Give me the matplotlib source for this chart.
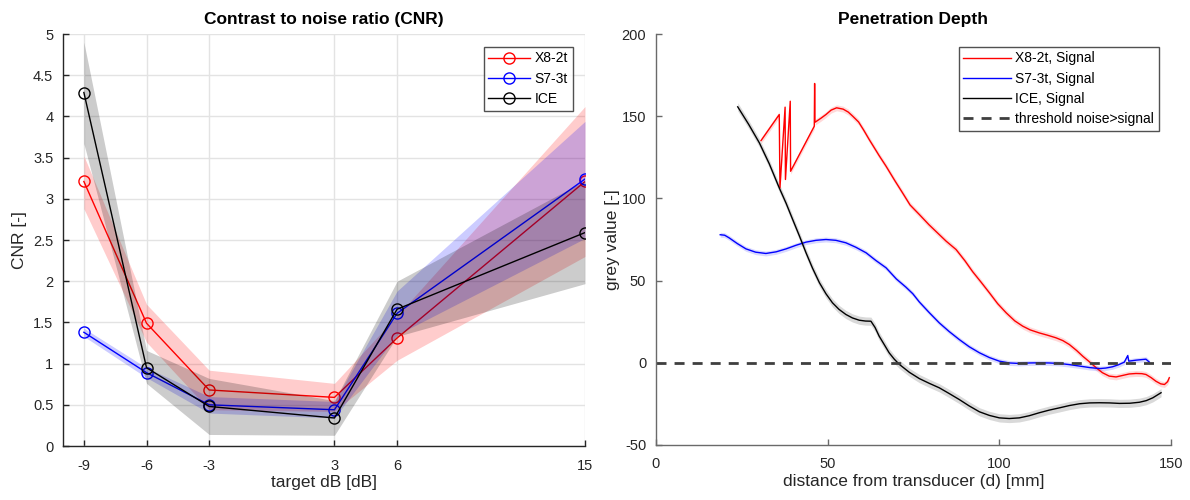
import numpy as np
import matplotlib
matplotlib.use("Agg")
import matplotlib.pyplot as plt

plt.rcParams['font.family'] = ['Liberation Sans', 'DejaVu Sans']
plt.rcParams['axes.unicode_minus'] = False

# ---------------- Left panel data (CNR) ----------------
target_db = [-9, -6, -3, 3, 6, 15]
cnr_x8 = [3.21, 1.49, 0.68, 0.59, 1.31, 3.21]
cnr_x8_lo = [2.88, 1.26, 0.44, 0.42, 1.04, 2.30]
cnr_x8_hi = [3.52, 1.72, 0.92, 0.76, 1.58, 4.12]
cnr_s7 = [1.38, 0.89, 0.50, 0.44, 1.61, 3.24]
cnr_s7_lo = [1.33, 0.83, 0.40, 0.34, 1.35, 2.52]
cnr_s7_hi = [1.43, 0.95, 0.60, 0.54, 1.88, 3.94]
cnr_ice = [4.29, 0.95, 0.48, 0.34, 1.66, 2.59]
cnr_ice_lo = [3.67, 0.76, 0.14, 0.13, 1.33, 1.97]
cnr_ice_hi = [4.90, 1.16, 0.82, 0.55, 2.00, 3.22]
cnr_labels = ['X8-2t', 'S7-3t', 'ICE']

# ---------------- Right panel data (penetration depth) ----------------
x8_d = [30.6, 35.9, 36.1, 37.6, 37.7, 39.1, 39.2, 46.1, 46.2, 46.3, 48.0, 49.5, 51.0,
        52.6, 54.5, 56.0, 57.3, 59.0, 60.5, 62.1, 65.0, 67.0, 69.5, 71.8, 74.0, 76.7,
        79.5, 82.0, 84.5, 87.4, 90.0, 92.2, 94.7, 97.1, 99.5, 102.0, 104.5, 106.8,
        109.0, 111.6, 114.0, 116.5, 118.5, 120.4, 122.5, 124.3, 126.3, 128.2, 130.0,
        132.0, 134.0, 135.9, 137.8, 139.8, 141.5, 142.7, 144.2, 145.6, 147.0, 148.1,
        149.0, 149.5]
x8_g = [135.2, 151.0, 106.4, 155.5, 111.5, 159.1, 116.5, 143.9, 169.9, 146.3, 148.7,
        151.0, 153.7, 155.1, 154.3, 152.5, 150.0, 146.5, 141.5, 135.8, 126.0, 119.6,
        111.0, 103.4, 96.0, 90.2, 84.0, 79.0, 74.0, 68.9, 62.0, 55.5, 49.0, 42.6, 36.0,
        30.4, 25.5, 22.3, 20.0, 18.2, 16.8, 15.2, 13.5, 11.1, 7.5, 4.0, 0.5, -3.0, -6.0,
        -8.1, -8.6, -7.7, -6.8, -6.5, -6.6, -7.1, -9.0, -11.2, -12.8, -13.2, -11.5, -9.1]

s7_d = [18.7, 20.0, 21.3, 23.7, 26.2, 29.0, 32.0, 35.0, 37.9, 40.8, 43.7, 46.6, 49.5,
        52.4, 55.3, 58.2, 61.2, 64.0, 67.0, 70.0, 72.8, 74.8, 76.7, 79.6, 82.5, 85.4,
        88.3, 91.2, 94.2, 97.1, 100.0, 102.9, 105.8, 108.7, 111.6, 114.5, 117.5, 120.4,
        123.4, 126.3, 129.2, 131.0, 133.0, 134.7, 136.4, 137.4, 137.7, 139.8, 142.7, 143.7]
s7_g = [77.9, 77.6, 76.0, 72.5, 69.3, 67.3, 66.5, 67.5, 69.3, 71.5, 73.4, 74.5, 75.0,
        74.5, 73.0, 70.3, 66.9, 62.3, 57.8, 51.0, 46.0, 42.0, 37.0, 30.5, 24.3, 19.0,
        14.2, 9.8, 6.1, 3.2, 1.0, -0.1, -0.4, -0.1, 0.0, -0.1, -0.4, -1.1, -2.0, -2.9,
        -3.5, -3.2, -2.4, -1.2, 0.4, 4.4, 1.0, 1.6, 2.2, 0.4]

ice_d = [23.8, 27.0, 30.1, 33.0, 35.9, 37.9, 39.8, 41.8, 43.7, 45.6, 47.6, 49.5, 51.4,
         53.3, 55.3, 57.2, 59.2, 61.0, 62.6, 63.8, 65.0, 66.5, 67.9, 69.4, 70.9, 73.8,
         76.7, 79.6, 82.5, 85.4, 88.3, 91.2, 94.2, 97.1, 100.0, 102.9, 105.8, 108.7,
         111.6, 114.5, 117.5, 120.4, 123.4, 126.3, 129.2, 132.1, 135.0, 138.0, 140.8,
         142.8, 144.7, 147.1]
ice_g = [155.7, 145.0, 133.8, 121.0, 106.4, 97.0, 87.2, 77.0, 66.9, 57.5, 48.7, 42.0,
         36.5, 32.5, 29.4, 27.3, 25.9, 25.4, 25.3, 21.5, 16.2, 11.0, 6.1, 2.2, -1.0,
         -5.8, -9.6, -12.5, -15.2, -18.7, -22.3, -26.2, -29.8, -32.0, -33.5, -33.9,
         -33.5, -32.2, -30.4, -28.8, -27.4, -26.0, -24.9, -24.4, -24.3, -24.4, -24.7,
         -24.6, -24.0, -23.0, -21.3, -18.2]

band_x8, band_s7, band_ice = 1.8, 1.5, 2.5
threshold = 0
depth_labels = ['X8-2t, Signal', 'S7-3t, Signal', 'ICE, Signal', 'threshold noise>signal']

TXT = '#262626'
fig = plt.figure(figsize=(11.9, 5.0), dpi=100)
ax1 = fig.add_axes([63/1190, 54/500, 522/1190, 412/500])
ax2 = fig.add_axes([656/1190, 55/500, 515/1190, 411/500])

# ---- left ----
series = [(cnr_x8, cnr_x8_lo, cnr_x8_hi, '#ff0000', cnr_labels[0]),
          (cnr_s7, cnr_s7_lo, cnr_s7_hi, '#0000ff', cnr_labels[1]),
          (cnr_ice, cnr_ice_lo, cnr_ice_hi, '#000000', cnr_labels[2])]
z = 2
for m, lo, hi, c, lab in series:
    ax1.fill_between(target_db, lo, hi, color=c, alpha=0.2, lw=0, zorder=z)
    ax1.plot(target_db, m, color=c, lw=1.0, marker='o', ms=8, mfc='none',
             mec=c, mew=1.0, label=lab, zorder=z + 0.5)
    z += 1
ax1.set_xlim(-10, 15)
ax1.set_ylim(0, 5)
ax1.set_xticks(target_db)
ax1.set_yticks(np.arange(0, 5.01, 0.5))
ax1.set_yticklabels(['0', '0.5', '1', '1.5', '2', '2.5', '3', '3.5', '4', '4.5', '5'])
ax1.grid(True, color='#e3e3e3', lw=1.0, zorder=0)
ax1.set_axisbelow(True)
ax1.set_title('Contrast to noise ratio (CNR)', fontsize=12.5, fontweight='bold',
              color='#000000', pad=7)
ax1.set_xlabel('target dB [dB]', fontsize=12.5, color=TXT, labelpad=2)
ax1.set_ylabel('CNR [-]', fontsize=12.5, color=TXT, labelpad=4)
leg1 = ax1.legend(loc='upper right', fontsize=10, frameon=True, fancybox=False,
                  edgecolor='#262626', handlelength=3.0, labelspacing=0.45,
                  borderaxespad=0.9, handletextpad=0.3, borderpad=0.35)
leg1.get_frame().set_linewidth(1.0)

# ---- right ----
ax2.fill_between(x8_d, np.array(x8_g) - band_x8, np.array(x8_g) + band_x8,
                 color='#ff0000', alpha=0.15, lw=0)
ax2.plot(x8_d, x8_g, color='#ff0000', lw=1.0, label=depth_labels[0])
ax2.fill_between(s7_d, np.array(s7_g) - band_s7, np.array(s7_g) + band_s7,
                 color='#0000ff', alpha=0.15, lw=0)
ax2.plot(s7_d, s7_g, color='#0000ff', lw=1.0, label=depth_labels[1])
ax2.fill_between(ice_d, np.array(ice_g) - band_ice, np.array(ice_g) + band_ice,
                 color='#000000', alpha=0.15, lw=0)
ax2.plot(ice_d, ice_g, color='#000000', lw=1.0, label=depth_labels[2])
ax2.axhline(threshold, color='#3f3f3f', lw=2.0, ls=(0, (3.6, 2.9)), label=depth_labels[3])
ax2.set_xlim(0, 150)
ax2.set_ylim(-50, 200)
ax2.set_xticks([0, 50, 100, 150])
ax2.set_yticks([-50, 0, 50, 100, 150, 200])
ax2.set_title('Penetration Depth', fontsize=12.5, fontweight='bold', color='#000000', pad=7)
ax2.set_xlabel('distance from transducer (d) [mm]', fontsize=12.5, color=TXT, labelpad=2)
ax2.set_ylabel('grey value [-]', fontsize=12.5, color=TXT, labelpad=1)
leg2 = ax2.legend(loc='upper right', fontsize=10, frameon=True, fancybox=False,
                  edgecolor='#262626', handlelength=3.4, labelspacing=0.45,
                  borderaxespad=0.9, handletextpad=0.3, borderpad=0.35)
leg2.get_frame().set_linewidth(1.0)

for ax, sc in ((ax1, '#262626'), (ax2, '#6a6a6a')):
    for s in ('top', 'right'):
        ax.spines[s].set_visible(False)
    for s in ('left', 'bottom'):
        ax.spines[s].set_color(sc)
        ax.spines[s].set_linewidth(1.0)
    ax.tick_params(direction='in', length=4, width=1.0, colors=sc,
                   labelcolor=TXT, labelsize=10.5, pad=7)
    ax.tick_params(axis='x', pad=9)

fig.savefig('out.png', dpi=100, facecolor='white')
